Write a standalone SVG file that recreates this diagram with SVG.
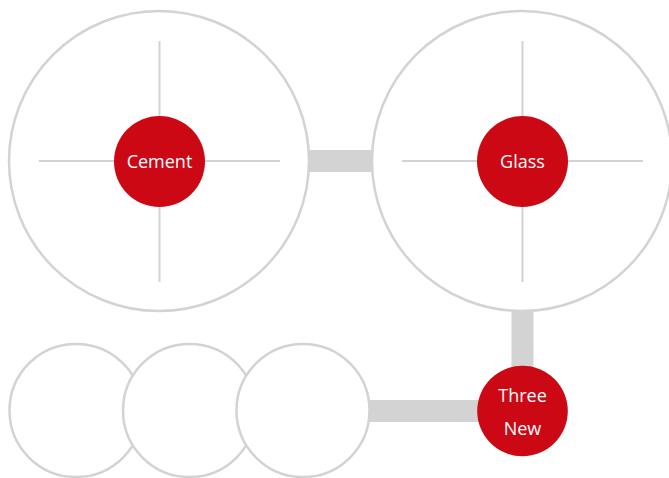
<svg xmlns="http://www.w3.org/2000/svg" width="669" height="478" viewBox="0 0 669 478">
<style>
.ring{fill:#ffffff;stroke:#d3d3d3;stroke-width:2.5}
.cross{stroke:#d3d3d3;stroke-width:2;fill:none}
.hub{fill:#cc0815}
.lbl{fill:#ffffff;font-family:"Open Sans","Noto Sans","Liberation Sans",sans-serif;font-size:18px;text-anchor:middle}
.bar{stroke:#d3d3d3;stroke-width:22;fill:none}
</style>
<rect width="669" height="478" fill="#ffffff"/>
<g id="connectors">
<line class="bar" x1="305" y1="161" x2="376" y2="161"/>
<line class="bar" x1="522.5" y1="305" x2="522.5" y2="380"/>
<line class="bar" x1="366" y1="411" x2="490" y2="411"/>
</g>
<g id="cement">
<circle class="ring" cx="159" cy="161" r="150"/>
<line class="cross" x1="39" y1="161" x2="280" y2="161"/>
<line class="cross" x1="159.5" y1="41" x2="159.5" y2="282"/>
<circle class="hub" cx="159.5" cy="161.5" r="45.5"/>
<text class="lbl" x="159.5" y="168">Cement</text>
</g>
<g id="glass">
<circle class="ring" cx="522" cy="161" r="150"/>
<line class="cross" x1="402" y1="161" x2="643" y2="161"/>
<line class="cross" x1="522.5" y1="41" x2="522.5" y2="282"/>
<circle class="hub" cx="522.5" cy="161.5" r="45.5"/>
<text class="lbl" x="522.5" y="168">Glass</text>
</g>
<g id="small1"><circle class="ring" cx="76" cy="410.5" r="66.5"/></g>
<g id="small2"><circle class="ring" cx="189.5" cy="410.5" r="66.5"/></g>
<g id="small3"><circle class="ring" cx="303" cy="410.5" r="66.5"/></g>
<g id="threenew">
<circle class="hub" cx="522.5" cy="411" r="45.3"/>
<text class="lbl" x="522.5" y="402">Three</text>
<text class="lbl" x="522.5" y="435">New</text>
</g>
</svg>
